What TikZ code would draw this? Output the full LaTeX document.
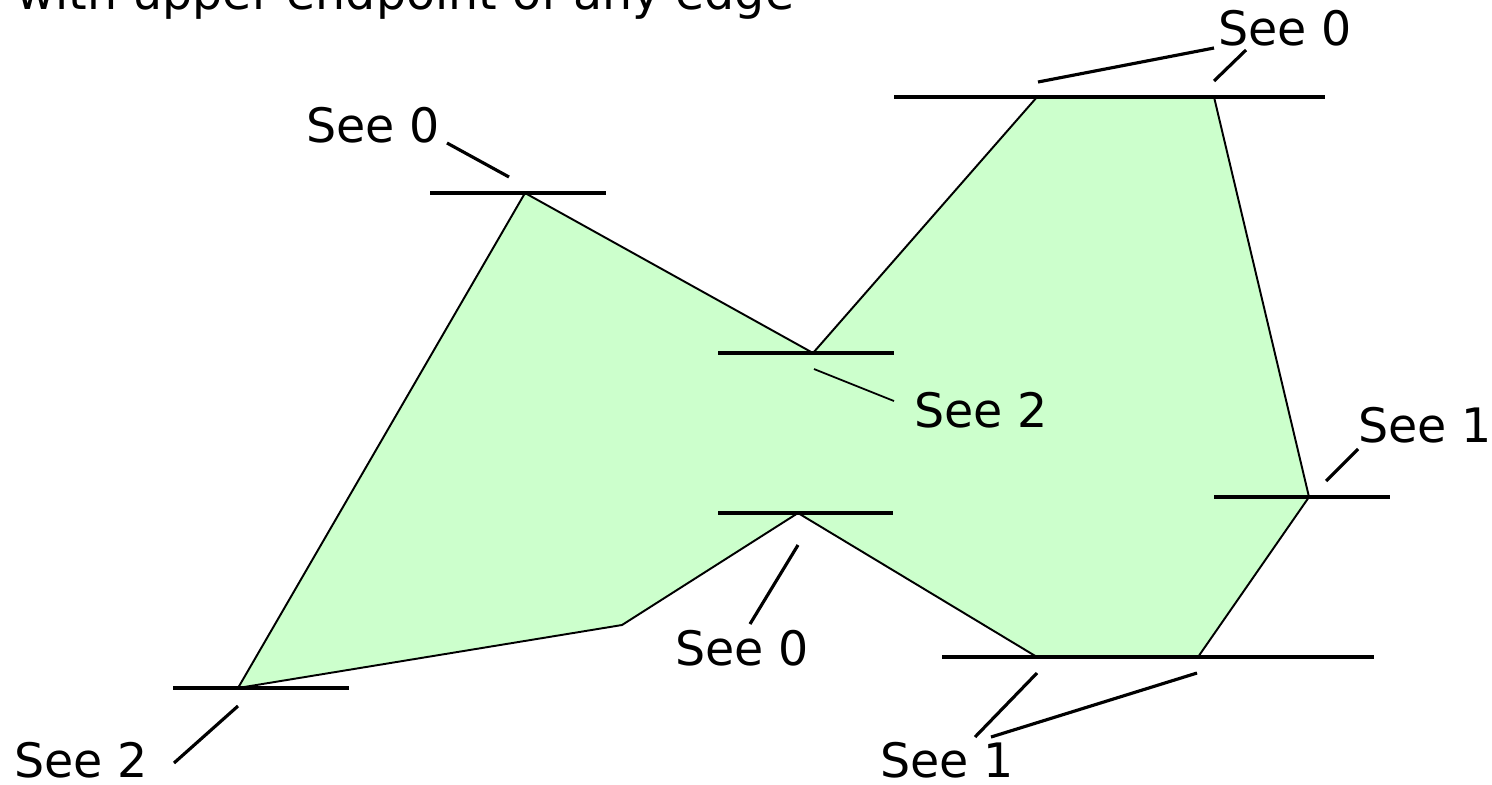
\documentclass[tikz,border=0pt]{standalone}
\usepackage{fontspec}
\setmainfont{DejaVu Sans}
\usepackage{tikz}
\usetikzlibrary{positioning}
\definecolor{xmint}{RGB}{204,255,204}

\begin{document}
\begin{tikzpicture}[
  x=0.01cm, y=-0.01cm,
  region/.style={draw=black, fill=xmint, line width=0.55pt},
  sweep/.style={draw=black, line width=0.9pt},
  leader/.style={draw=black, line width=0.9pt},
  faint/.style={draw=black, line width=0.5pt},
  lbl/.style={inner sep=0pt, font=\fontsize{13.5pt}{16pt}\selectfont}
]
  \useasboundingbox (0,0) rectangle (1492,784);

  \coordinate (pa) at (525,193);
  \coordinate (pb) at (813,353);
  \coordinate (pc) at (1037,97);
  \coordinate (pd) at (1214,97);
  \coordinate (pe) at (1309,497);
  \coordinate (pf) at (1198,657);
  \coordinate (pg) at (1037,657);
  \coordinate (ph) at (798,513);
  \coordinate (pi) at (622,625);
  \coordinate (pj) at (238,688);

  \draw[region] (pa) -- (pb) -- (pc) -- (pd) -- (pe) -- (pf) -- (pg) -- (ph) -- (pi) -- (pj) -- cycle;

  \foreach \l/\r/\y in {430/606/193, 894/1325/97, 718/894/353, 718/893/513,
                        1214/1390/497, 942/1374/657, 173/349/688}
    \draw[sweep] (\l,\y) -- (\r,\y);

  \node[lbl, anchor=base west] (caption) at (16,9) {with upper endpoint of any edge};

  \node[lbl] (seeA) at (373,125) {See 0};
  \node[lbl] (seeCD) at (1285,28) {See 0};
  \node[lbl] (seeB) at (981,410) {See 2};
  \node[lbl] (seeE) at (1425,425) {See 1};
  \node[lbl] (seeH) at (742,648) {See 0};
  \node[lbl] (seeFG) at (947,760) {See 1};
  \node[lbl] (seeJ) at (81,760) {See 2};

  \coordinate (ta1) at (447,143);   \coordinate (ta2) at (509,177);
  \coordinate (tc1) at (1214,48);   \coordinate (tc2) at (1038,82);
  \coordinate (td1) at (1246,50);   \coordinate (td2) at (1214,81);
  \coordinate (tb1) at (894,401);   \coordinate (tb2) at (814,369);
  \coordinate (te1) at (1358,449);  \coordinate (te2) at (1326,481);
  \coordinate (th1) at (750,624);   \coordinate (th2) at (798,545);
  \coordinate (tg1) at (975,737);   \coordinate (tg2) at (1037,673);
  \coordinate (tf1) at (991,737);   \coordinate (tf2) at (1197,673);
  \coordinate (tj1) at (174,763);   \coordinate (tj2) at (238,706);

  \foreach \t in {ta,tc,td,te,th,tg,tf,tj}
    \draw[leader] (\t1) -- (\t2);
  \draw[faint] (tb1) -- (tb2);
\end{tikzpicture}
\end{document}
